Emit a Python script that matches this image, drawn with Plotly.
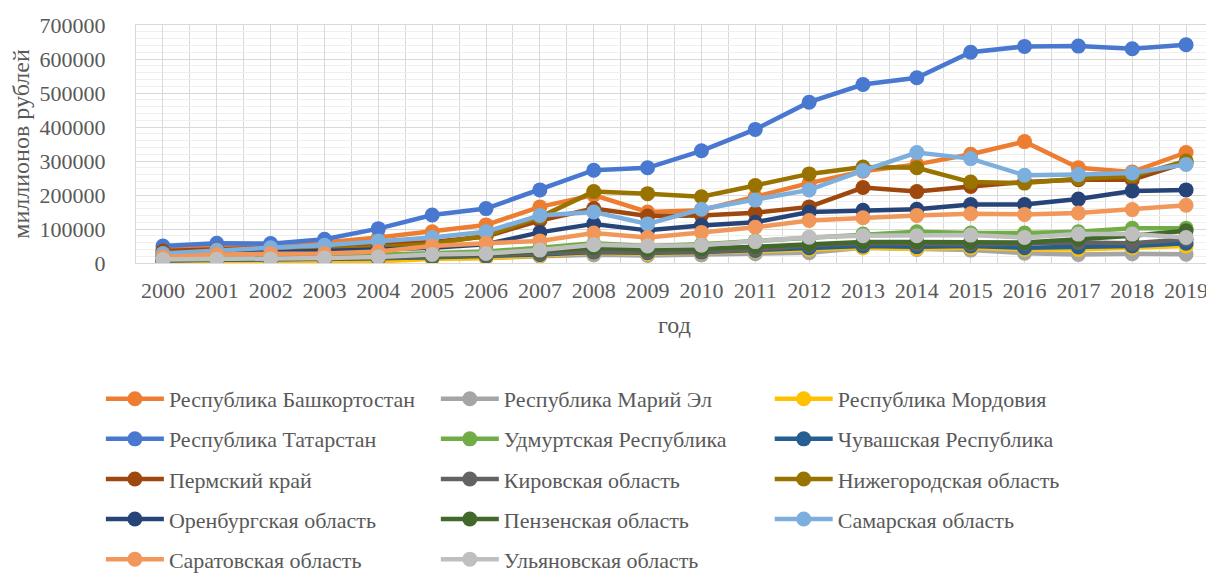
import plotly.graph_objects as go

years = list(range(2000, 2020))

bashkortostan = [38000, 48000, 50000, 60000, 75000, 92000, 112000, 165000, 200000, 150000,
                 155000, 195000, 235000, 270000, 290000, 320000, 357000, 280000, 268000, 325000]
mari_el = [5000, 6000, 7000, 9000, 11000, 13000, 15000, 20000, 24000, 22000,
           24000, 27000, 30000, 45000, 40000, 38000, 29000, 25000, 27000, 26000]
mordovia = [3000, 4000, 5000, 6000, 5000, 12000, 15000, 22000, 30000, 27000,
            30000, 35000, 40000, 45000, 42000, 45000, 40000, 40000, 45000, 50000]
tatarstan = [50000, 58000, 57000, 70000, 101000, 141000, 160000, 215000, 273000, 280000,
             330000, 393000, 473000, 525000, 545000, 620000, 637000, 638000, 630000, 642000]
udmurtia = [12000, 14000, 17000, 20000, 24000, 30000, 34000, 45000, 58000, 50000,
            55000, 65000, 75000, 85000, 92000, 88000, 88000, 92000, 102000, 102000]
chuvashia = [8000, 9000, 10000, 12000, 14000, 17000, 20000, 25000, 32000, 30000,
             32000, 37000, 45000, 50000, 48000, 50000, 45000, 47000, 50000, 58000]
perm = [35000, 40000, 42000, 48000, 55000, 62000, 78000, 125000, 160000, 138000,
        140000, 148000, 165000, 222000, 210000, 225000, 238000, 245000, 245000, 295000]
kirov = [8000, 9000, 10000, 12000, 15000, 18000, 22000, 27000, 33000, 32000,
         34000, 40000, 52000, 58000, 56000, 55000, 58000, 60000, 58000, 70000]
nizhny = [20000, 24000, 30000, 40000, 46000, 56000, 80000, 135000, 210000, 204000,
          195000, 228000, 262000, 282000, 280000, 238000, 235000, 248000, 255000, 300000]
orenburg = [25000, 28000, 30000, 35000, 40000, 45000, 55000, 90000, 115000, 96000,
            110000, 120000, 150000, 155000, 158000, 172000, 172000, 188000, 212000, 215000]
penza = [8000, 10000, 12000, 15000, 18000, 22000, 26000, 35000, 45000, 40000,
         42000, 48000, 55000, 62000, 62000, 62000, 60000, 70000, 80000, 95000]
samara = [28000, 38000, 45000, 52000, 65000, 75000, 92000, 140000, 150000, 115000,
          158000, 185000, 215000, 272000, 325000, 307000, 258000, 260000, 265000, 290000]
saratov = [18000, 25000, 27000, 28000, 34000, 50000, 58000, 65000, 88000, 75000,
           90000, 105000, 125000, 133000, 140000, 145000, 143000, 147000, 157000, 170000]
ulyanovsk = [10000, 11000, 12000, 15000, 18000, 25000, 28000, 38000, 54000, 50000,
             52000, 63000, 76000, 80000, 80000, 82000, 75000, 85000, 85000, 75000]

# name, values, colour, legend column
series = [
    ("Республика Башкортостан", bashkortostan, "#ED7D31", "legend"),
    ("Республика Марий Эл", mari_el, "#A5A5A5", "legend2"),
    ("Республика Мордовия", mordovia, "#FFC000", "legend3"),
    ("Республика Татарстан", tatarstan, "#4878CF", "legend"),
    ("Удмуртская Республика", udmurtia, "#70AD47", "legend2"),
    ("Чувашская Республика", chuvashia, "#255E91", "legend3"),
    ("Пермский край", perm, "#9E480E", "legend"),
    ("Кировская область", kirov, "#636363", "legend2"),
    ("Нижегородская область", nizhny, "#997300", "legend3"),
    ("Оренбургская область", orenburg, "#264478", "legend"),
    ("Пензенская область", penza, "#43682B", "legend2"),
    ("Самарская область", samara, "#7CAFDD", "legend3"),
    ("Саратовская область", saratov, "#F1975A", "legend"),
    ("Ульяновская область", ulyanovsk, "#BFBFBF", "legend2"),
]

FONT = "Liberation Serif, Times New Roman, serif"
GREY = "#595959"

fig = go.Figure()
for name, vals, color, leg in series:
    fig.add_trace(go.Scatter(
        x=years, y=vals, name=name, mode="lines+markers",
        line=dict(color=color, width=4.5),
        marker=dict(color=color, size=15),
        legend=leg, legendgroup=name,
    ))

# three legend columns, rows read left to right
legend_style = dict(
    orientation="v", xanchor="left", yanchor="top", y=-0.483,
    font=dict(family=FONT, size=22, color=GREY),
    itemwidth=58, tracegroupgap=8.5, bgcolor="rgba(0,0,0,0)",
)

fig.update_layout(
    width=1214, height=581,
    margin=dict(l=128, r=9, t=17, b=324),
    plot_bgcolor="white", paper_bgcolor="white",
    font=dict(family=FONT, color=GREY),
    showlegend=True,
    legend=dict(x=-0.0326, **legend_style),
    legend2=dict(x=0.2784, **legend_style),
    legend3=dict(x=0.5884, **legend_style),
    xaxis=dict(
        range=[1999.5, 2019.5], tickmode="array", tickvals=years,
        tickfont=dict(size=22, color=GREY), ticklabelstandoff=8,
        showgrid=True, gridcolor="#D9D9D9", gridwidth=1,
        minor=dict(tickmode="array", tickvals=[y + 0.5 for y in range(1999, 2020)],
                   showgrid=True, gridcolor="#D9D9D9", gridwidth=1),
        showline=True, linecolor="#D9D9D9", mirror=True, zeroline=False,
        automargin=False,
        title=dict(text="год", font=dict(size=24, color=GREY), standoff=13),
    ),
    yaxis=dict(
        range=[0, 700000], dtick=100000, tickformat="d",
        tickfont=dict(size=22, color=GREY), ticklabelstandoff=25,
        showgrid=True, gridcolor="#D9D9D9", gridwidth=1,
        minor=dict(dtick=20000, showgrid=True, gridcolor="#EFEFEF", gridwidth=1),
        showline=True, linecolor="#D9D9D9", mirror=True, zeroline=False,
        automargin=False,
        title=dict(text="миллионов рублей", font=dict(size=24, color=GREY), standoff=22),
    ),
)

fig.write_html("out.html")
